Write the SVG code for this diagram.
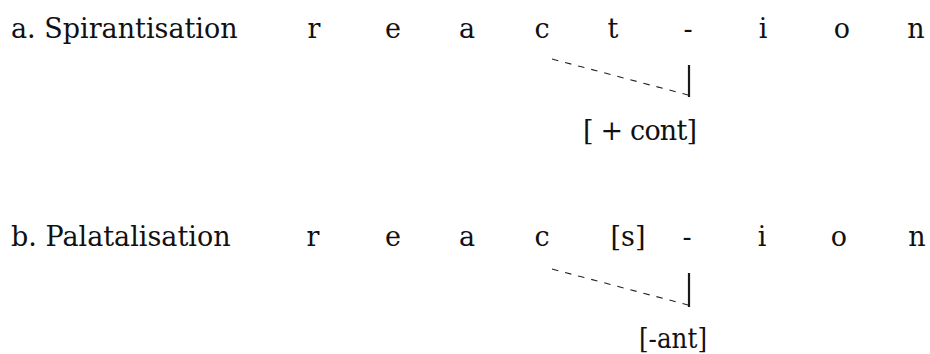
<svg xmlns="http://www.w3.org/2000/svg" width="930" height="354" viewBox="0 0 930 354">
<style>
text{font-family:"DejaVu Serif","Liberation Serif",serif;font-size:27px;fill:#111}
.m{text-anchor:middle}
.dash{stroke:#222;stroke-width:1.1;stroke-dasharray:6.5 7;fill:none}
.bar{stroke:#1a1a1a;stroke-width:2.2;fill:none}
</style>
<rect width="930" height="354" fill="#fff"/>
<g id="row-a">
<text x="11" y="38">a. Spirantisation</text>
<text class="m" x="314" y="38">r</text>
<text class="m" x="393" y="38">e</text>
<text class="m" x="467" y="38">a</text>
<text class="m" x="542" y="38">c</text>
<text class="m" x="613" y="38">t</text>
<text class="m" x="688" y="38">-</text>
<text class="m" x="763" y="38">i</text>
<text class="m" x="842" y="38">o</text>
<text class="m" x="916" y="38">n</text>
<text x="583" y="140" textLength="114" lengthAdjust="spacing">[ + cont]</text>
</g>
<g id="row-b">
<text x="11" y="246">b. Palatalisation</text>
<text class="m" x="313" y="246">r</text>
<text class="m" x="393" y="246">e</text>
<text class="m" x="467" y="246">a</text>
<text class="m" x="542" y="246">c</text>
<text class="m" x="628" y="246">[s]</text>
<text class="m" x="687" y="246">-</text>
<text class="m" x="762" y="246">i</text>
<text class="m" x="839" y="246">o</text>
<text class="m" x="917" y="246">n</text>
<text x="639" y="348" textLength="68" lengthAdjust="spacingAndGlyphs">[-ant]</text>
</g>
<g id="connectors">
<line class="dash" x1="552" y1="59" x2="688" y2="95"/>
<line class="bar" x1="689" y1="65" x2="689" y2="97"/>
<line class="dash" x1="552" y1="269" x2="688" y2="305"/>
<line class="bar" x1="689" y1="273" x2="689" y2="307"/>
</g>
</svg>
